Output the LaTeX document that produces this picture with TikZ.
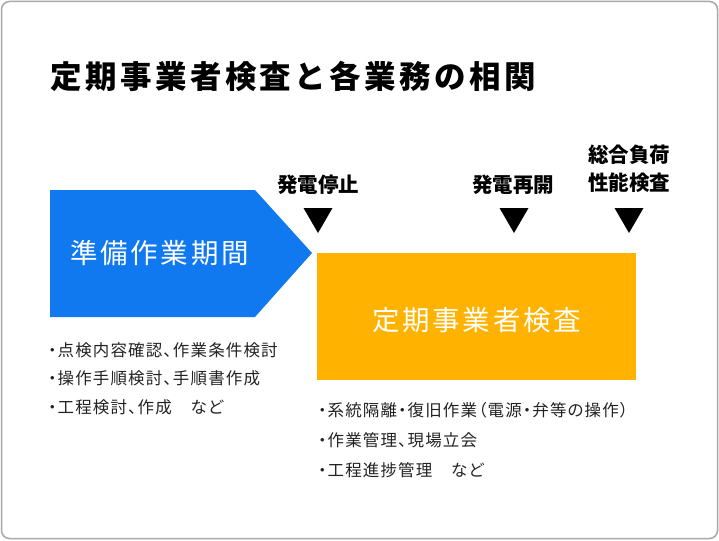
\documentclass[tikz,border=0pt]{standalone}
\usepackage{fontspec}
\newfontfamily\jp{Noto Sans CJK JP}
\newfontfamily\jpp{Noto Sans CJK JP}[RawFeature=+palt]
\definecolor{framecol}{HTML}{A8A8A8}
\definecolor{bluec}{HTML}{1079F0}
\definecolor{orangec}{HTML}{FFB200}
\definecolor{textc}{HTML}{222222}
\tikzset{
  titletext/.style={inner sep=0pt, font=\jp\bfseries\fontsize{31.5}{34}\selectfont\addfontfeatures{LetterSpace=11}},
  boxtext/.style={inner sep=0pt, text=white, font=\jp\fontsize{27.5}{30}\selectfont\addfontfeatures{LetterSpace=10}},
  eventlabel/.style={inner sep=0pt, align=center, font=\jp\bfseries\fontsize{20.5}{28}\selectfont},
  bullettext/.style={inner sep=0pt, text=textc, font=\jpp\fontsize{16.5}{20}\selectfont\addfontfeatures{LetterSpace=7}},
  marker/.style={fill=black},
}
\begin{document}
\begin{tikzpicture}[x=1pt,y=-1pt]
\useasboundingbox (0,0) rectangle (719,540);
\draw[framecol, line width=1.5pt, rounded corners=8pt] (1.5,1.5) rectangle (717.5,538.5);
\node[anchor=west, titletext] (title) at (50,76) {定期事業者検査と各業務の相関};
% preparation arrow
\fill[bluec] (50,190) -- (255,190) -- (312,253) -- (255,317) -- (50,317) -- cycle;
\node[anchor=west, boxtext] (prep) at (70,253) {準備作業期間};
% inspection box
\fill[orangec] (317,253) rectangle (636,380);
\node[anchor=west, boxtext] (insp) at (372,320) {定期事業者検査};
% event labels
\node[eventlabel] (stop) at (318,185) {発電停止};
\node[eventlabel] (restart) at (513,185) {発電再開};
\node[eventlabel] (load) at (629,169) {総合負荷\\性能検査};
% markers
\fill[marker] (303.5,208) -- (332.5,208) -- (318,233) -- cycle;
\fill[marker] (499.5,208) -- (528.5,208) -- (514,233) -- cycle;
\fill[marker] (614.5,208) -- (643.5,208) -- (629,233) -- cycle;
% bullet lists
\node[anchor=west, bullettext] (l1) at (48,350) {・点検内容確認、作業条件検討};
\node[anchor=west, bullettext] (l2) at (48,378) {・操作手順検討、手順書作成};
\node[anchor=west, bullettext] (l3) at (48,407) {・工程検討、作成　など};
\node[anchor=west, bullettext] (r1) at (318,410) {・系統隔離・復旧作業（電源・弁等の操作）};
\node[anchor=west, bullettext] (r2) at (318,440) {・作業管理、現場立会};
\node[anchor=west, bullettext] (r3) at (318,470) {・工程進捗管理　など};
\end{tikzpicture}
\end{document}
